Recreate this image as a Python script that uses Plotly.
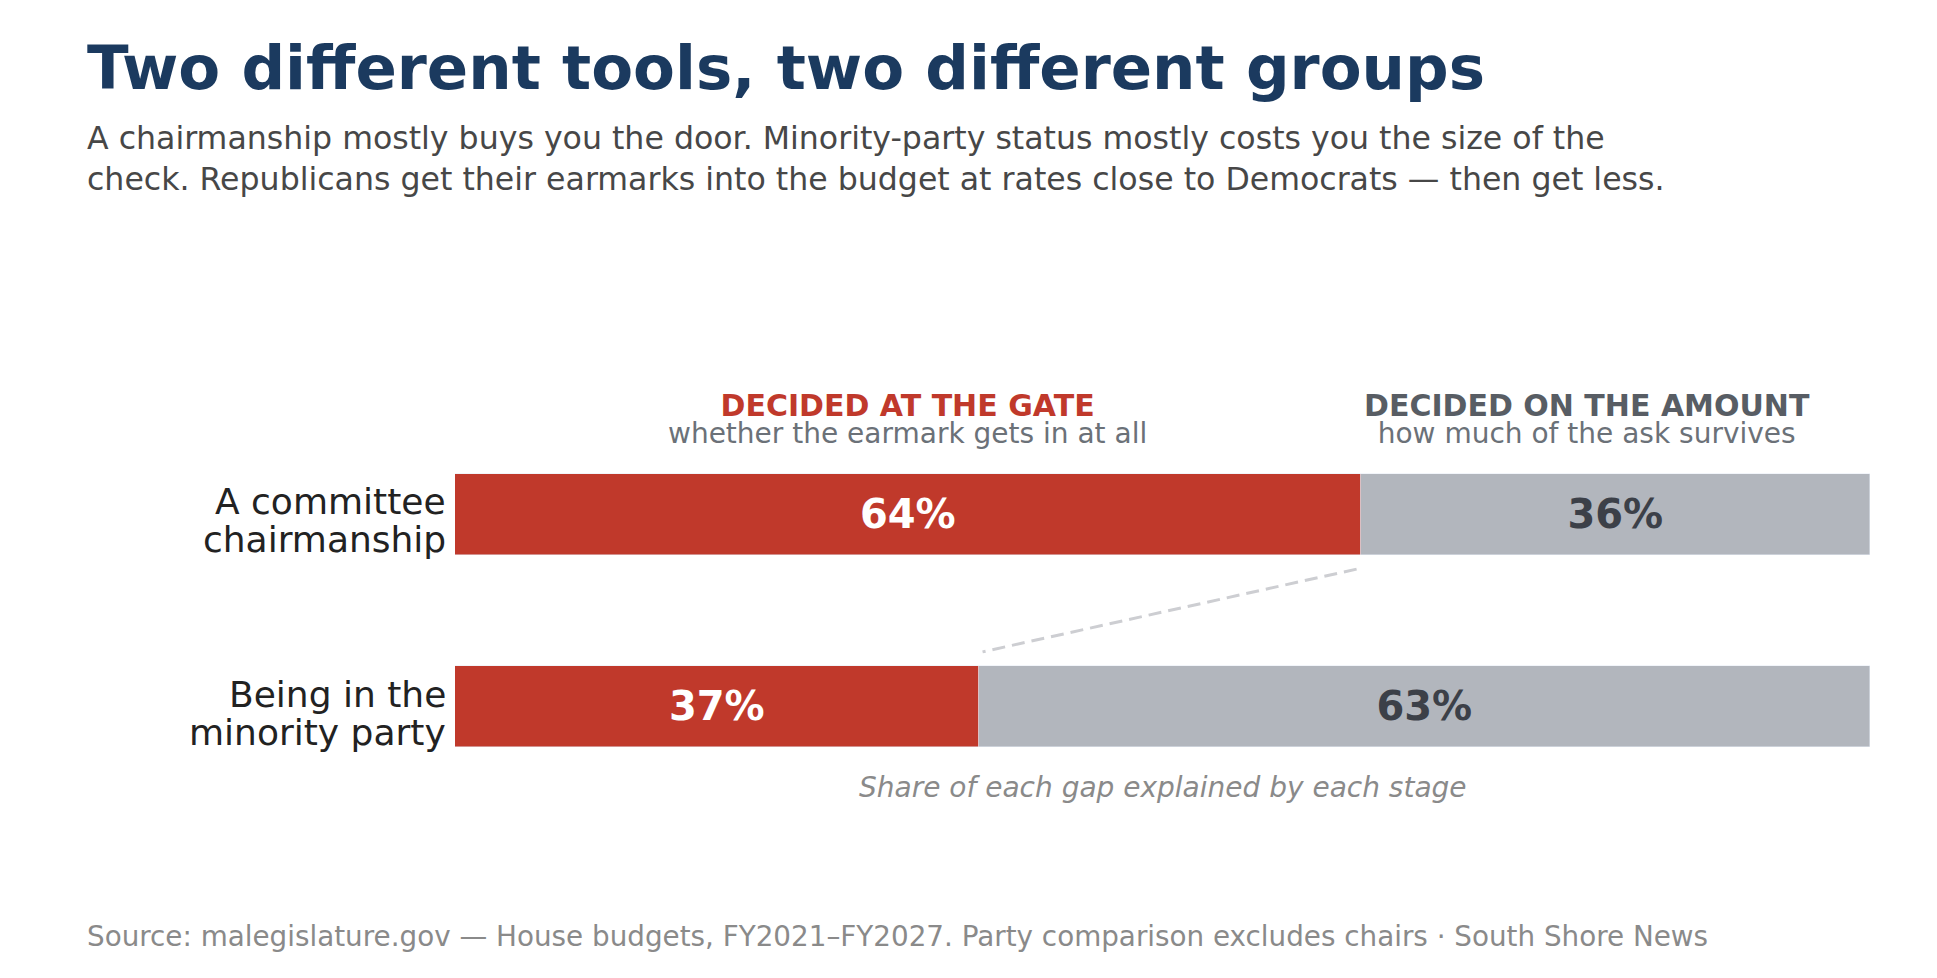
import plotly.graph_objects as go

# data
categories = ["A committee chairmanship", "Being in the minority party"]
label_lines = [["A committee", "chairmanship"], ["Being in the", "minority party"]]
gate_share = [64, 37]      # decided at the gate
amount_share = [36, 63]    # decided on the amount

title = "Two different tools, two different groups"
subtitle_lines = [
    "A chairmanship mostly buys you the door. Minority-party status mostly costs you the size of the",
    "check. Republicans get their earmarks into the budget at rates close to Democrats \u2014 then get less.",
]
headers = [
    ("DECIDED AT THE GATE", "whether the earmark gets in at all", 32),
    ("DECIDED ON THE AMOUNT", "how much of the ask survives", 80),
]
note = "Share of each gap explained by each stage"
source = ("Source: malegislature.gov \u2014 House budgets, FY2021\u2013FY2027. "
          "Party comparison excludes chairs \u00b7 South Shore News")

RED = "#c0392b"
GREY = "#b2b6bd"
FONT = "DejaVu Sans"

W, H = 1937, 978
OFF = 8  # page body margin
# plot area in page pixels
LEFT, RIGHT = 455, 1870
TOP, BOTTOM = 418.25, 803.25
PW, PH = RIGHT - LEFT, BOTTOM - TOP
TEXT_X = 85


def px_x(x):
    return (x - LEFT) / PW


def px_y(y):
    return (BOTTOM - y) / PH


fig = go.Figure()
fig.add_trace(go.Bar(
    y=categories, x=gate_share, orientation="h", marker_color=RED,
    width=0.42, text=[f"{v}%" for v in gate_share], textposition="inside",
    insidetextanchor="middle",
    textfont=dict(size=40, color="white", family=FONT, weight="bold"),
    hoverinfo="skip",
))
fig.add_trace(go.Bar(
    y=categories, x=amount_share, orientation="h", marker_color=GREY,
    width=0.42, text=[f"{v}%" for v in amount_share], textposition="inside",
    insidetextanchor="middle",
    textfont=dict(size=40, color="#3c4048", family=FONT, weight="bold"),
    hoverinfo="skip",
))

# dashed connector between the two gate ends (inset a few px)
inset = 4 / PW * 100
fig.add_shape(type="line", xref="x", yref="y",
              x0=gate_share[0] - inset, y0=0.285,
              x1=gate_share[1] + inset, y1=0.715,
              line=dict(color="#cdced2", width=3, dash="13px,7px"))

ann = []
ann.append(dict(text=f"<b>{title}</b>", x=px_x(TEXT_X), y=px_y(68), xanchor="left",
                font=dict(size=61, color="#1b3a5f")))
for txt, yb in zip(subtitle_lines, [138, 179.5]):
    ann.append(dict(text=txt, x=px_x(TEXT_X), y=px_y(yb), xanchor="left",
                    font=dict(size=31.6, color="#474747")))
# column headers: heading + explanation in one block (tight line spacing)
for i, (head, sub, xc) in enumerate(headers):
    head_col = RED if i == 0 else "#585d64"
    block = (f"<span style='font-size:30px;color:{head_col}'><b>{head}</b></span><br>"
             f"<span style='font-size:28px;color:#6b7178'>{sub}</span>")
    ann.append(dict(text=block, x=xc, xref="x", y=px_y(419),
                    font=dict(size=20.5, color=head_col)))
for cat, lines in zip(categories, label_lines):
    for line, shift in zip(lines, [12.5, -25.5]):
        ann.append(dict(text=line, x=px_x(447.5), y=cat, yref="y", yshift=shift,
                        xanchor="right", font=dict(size=36, color="#222222")))
ann.append(dict(text=f"<i>{note}</i>", x=0.5, y=px_y(787.5),
                font=dict(size=28, color="#8a8a8a")))
ann.append(dict(text=source, x=px_x(TEXT_X), y=px_y(936.5), xanchor="left",
                font=dict(size=27.8, color="#8a8a8a")))

for a in ann:
    a.setdefault("xref", "paper")
    a.setdefault("yref", "paper")
    a.setdefault("xanchor", "center")
    a.setdefault("yanchor", "middle")
    a["showarrow"] = False
    fig.add_annotation(**a)

fig.update_layout(
    width=W, height=H,
    barmode="stack", bargap=0,
    showlegend=False,
    plot_bgcolor="white", paper_bgcolor="white",
    font=dict(family=FONT),
    margin=dict(l=LEFT - OFF, r=W - (RIGHT - OFF), t=TOP - OFF,
                b=H - (BOTTOM - OFF), pad=0),
    xaxis=dict(range=[0, 100], visible=False, fixedrange=True),
    yaxis=dict(type="category", categoryarray=categories, range=[1.5, -0.5],
               visible=False, fixedrange=True),
)

fig.write_html("out.html")
